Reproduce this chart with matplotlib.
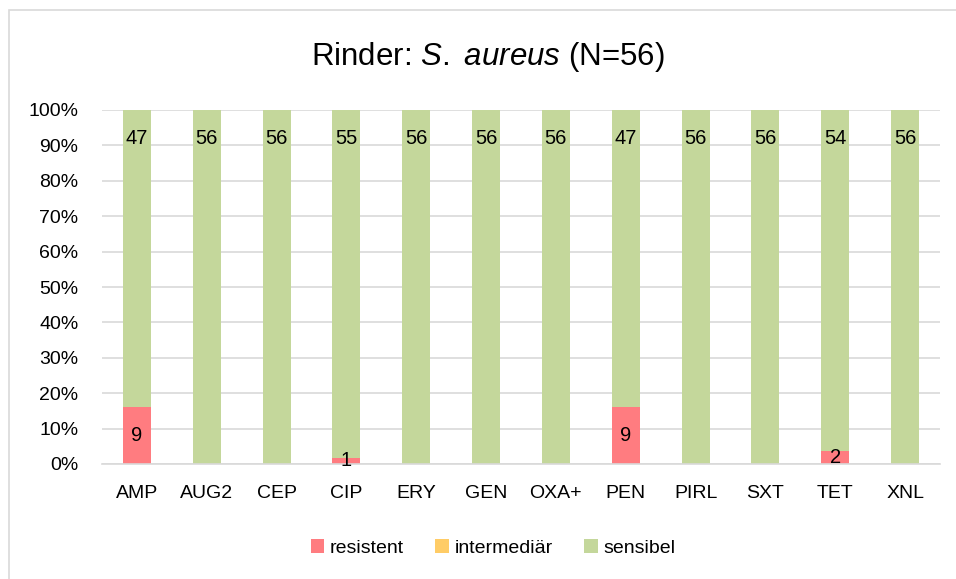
import numpy as np
import matplotlib.pyplot as plt
from matplotlib.patches import Rectangle
from matplotlib.ticker import PercentFormatter

plt.rcParams['font.family'] = ['Liberation Sans', 'DejaVu Sans']
plt.rcParams['mathtext.fontset'] = 'custom'
plt.rcParams['mathtext.rm'] = 'Liberation Sans'
plt.rcParams['mathtext.it'] = 'Liberation Sans:italic'

# Daten
antibiotika = ['AMP', 'AUG2', 'CEP', 'CIP', 'ERY', 'GEN', 'OXA+', 'PEN', 'PIRL', 'SXT', 'TET', 'XNL']
resistent = [9, 0, 0, 1, 0, 0, 0, 9, 0, 0, 2, 0]
intermediaer = [0, 0, 0, 0, 0, 0, 0, 0, 0, 0, 0, 0]
sensibel = [47, 56, 56, 55, 56, 56, 56, 47, 56, 56, 54, 56]
n_total = 56

c_res = '#FF7C80'
c_int = '#FFCC66'
c_sen = '#C4D79B'

fig = plt.figure(figsize=(9.56, 5.79), dpi=100)
# Rahmen um das Diagramm (rechts und unten abgeschnitten)
fig.patches.append(Rectangle((9 / 956, -0.05), 1.05, 0.05 + 569 / 579, transform=fig.transFigure,
                             fill=False, edgecolor='#d9d9d9', linewidth=1.2, clip_on=False))
ax = fig.add_axes([102 / 956, 115 / 579, 838 / 956, 354 / 579])

x = np.arange(len(antibiotika))
res = np.array(resistent) / n_total * 100
inter = np.array(intermediaer) / n_total * 100
sen = np.array(sensibel) / n_total * 100
w = 0.4

b1 = ax.bar(x, res, w, color=c_res, label='resistent', zorder=2)
b2 = ax.bar(x, inter, w, bottom=res, color=c_int, label='intermediär', zorder=2)
b3 = ax.bar(x, sen, w, bottom=res + inter, color=c_sen, label='sensibel', zorder=2)

# Datenbeschriftungen
for i in range(len(x)):
    if resistent[i] > 0:
        ax.text(x[i], res[i] / 2, str(resistent[i]), ha='center', va='center',
                fontsize=14.5, zorder=3)
    if sensibel[i] > 0:
        ax.text(x[i], 92, str(sensibel[i]), ha='center', va='center',
                fontsize=14.5, zorder=3)

ax.set_ylim(0, 100)
ax.set_xlim(-0.5, len(x) - 0.5)
ax.set_yticks(np.arange(0, 101, 10))
ax.yaxis.set_major_formatter(PercentFormatter(decimals=0))
ax.set_xticks(x)
ax.set_xticklabels(antibiotika)
ax.tick_params(length=0, labelsize=14, colors='black')
ax.tick_params(axis='x', pad=15)
ax.tick_params(axis='y', pad=17)
ax.grid(axis='y', color='#d9d9d9', linewidth=1.2, zorder=0)
for s in ['top', 'right', 'left']:
    ax.spines[s].set_visible(False)
ax.spines['bottom'].set_color('#d9d9d9')
ax.spines['bottom'].set_linewidth(1.2)

fig.text(488 / 956, 1 - 57 / 579, r'Rinder: $\it{S.}$ $\it{aureus}$ (N=56)', ha='center', va='center',
         fontsize=22.5)

fig.legend(handles=[b1, b2, b3], loc='center', bbox_to_anchor=(493 / 956, 1 - 548 / 579),
           ncol=3, frameon=False, fontsize=14, handlelength=0.7, handleheight=0.7,
           handletextpad=0.3, columnspacing=1.6)

fig.savefig('out.png', dpi=100)
